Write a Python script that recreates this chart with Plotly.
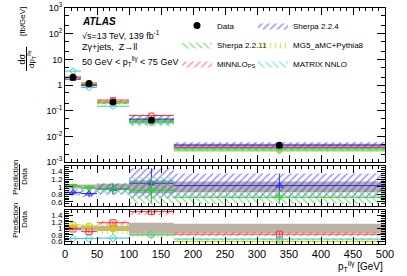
import plotly.graph_objects as go

# ---------------- data ----------------
bin_edges = [0, 25, 50, 100, 170, 500]
bin_centers = [12.5, 37.5, 75, 135, 335]

data_xsec = [2.0, 1.16, 0.22, 0.043, 0.0045]
data_rel_unc = [0.05, 0.06, 0.08, 0.17, 0.14]

series_names = ["Sherpa 2.2.4", "Sherpa 2.2.11", "MiNNLO<sub>PS</sub>", "MG5_aMC+Pythia8", "MATRIX NNLO"]

sherpa224_xsec = [1.7, 0.95, 0.21, 0.047, 0.0046]
sherpa2211_xsec = [2.0, 1.1, 0.20, 0.039, 0.0033]
minnlo_xsec = [1.95, 1.05, 0.26, 0.065, 0.0037]
mg5_xsec = [2.2, 1.24, 0.215, 0.034, 0.0027]
matrix_xsec = [3.5, 0.8, 0.15, 0.034, 0.0030]

sherpa224_ratio = [0.85, 0.82, 0.94, 1.09, 1.03]
sherpa2211_ratio = [1.02, 0.96, 0.94, 0.90, 0.72]
minnlo_ratio = [0.98, 0.90, 1.17, 1.51, 0.82]
mg5_ratio = [1.10, 1.07, 0.98, 0.80, 0.60]
matrix_ratio = [0.69, 0.69, 0.70, 0.80, 0.67]

sherpa224_unc = [0.08, 0.10, 0.15, 0.40, 0.32]
sherpa2211_unc = [0.06, 0.08, 0.12, 0.35, 0.18]
minnlo_unc = [0.05, 0.05, 0.06, 0.10, 0.06]
mg5_unc = [0.05, 0.06, 0.15, 0.08, 0.04]
matrix_unc = [0.02, 0.02, 0.02, 0.03, 0.03]

main_ticks = [1e-3, 1e-2, 1e-1, 1, 10, 100, 1000]
main_ticktext = ["10<sup>-3</sup>", "10<sup>-2</sup>", "10<sup>-1</sup>", "1", "10", "10<sup>2</sup>", "10<sup>3</sup>"]
ratio_ticks = [0.6, 0.8, 1.0, 1.2, 1.4]
ratio_ticktext = ["0.6", "0.8", "1", "1.2", "1.4"]
x_ticks = [0, 50, 100, 150, 200, 250, 300, 350, 400, 450, 500]

# styles
colors = ["#2b2bff", "#33cc33", "#ff3333", "#cccc00", "#33cccc"]
patterns = ["/", "\\", "/", "|", "\\"]
symbols = ["triangle-up-open", "triangle-down-open", "square-open", "circle-open", "diamond-open"]
legend_of = ["legend2", "legend", "legend", "legend2", "legend2"]
band_gray = "#bcb2a6"
FONT = "Liberation Sans, Arial, sans-serif"

preds_main = [sherpa224_xsec, sherpa2211_xsec, minnlo_xsec, mg5_xsec, matrix_xsec]
preds_ratio = [sherpa224_ratio, sherpa2211_ratio, minnlo_ratio, mg5_ratio, matrix_ratio]
preds_unc = [sherpa224_unc, sherpa2211_unc, minnlo_unc, mg5_unc, matrix_unc]
ratio_panel = [2, 2, 3, 3, 3]


def boxes(lo, hi):
    xs, ys = [], []
    for i in range(len(lo)):
        x0, x1 = bin_edges[i], bin_edges[i + 1]
        xs += [x0, x1, x1, x0, x0, None]
        ys += [lo[i], lo[i], hi[i], hi[i], lo[i], None]
    return xs, ys


def hlines(vals):
    xs, ys = [], []
    for i, v in enumerate(vals):
        xs += [bin_edges[i], bin_edges[i + 1], None]
        ys += [v, v, None]
    return xs, ys


def pattern(shape, c):
    return dict(shape=shape, fgcolor=c, bgcolor="rgba(0,0,0,0)", size=5, solidity=0.3)


fig = go.Figure()
axmap = {1: ("x", "y"), 2: ("x2", "y2"), 3: ("x3", "y3")}

# ---- data uncertainty bands ----
lo = [d * (1 - u) for d, u in zip(data_xsec, data_rel_unc)]
hi = [d * (1 + u) for d, u in zip(data_xsec, data_rel_unc)]
bx, by = boxes(lo, hi)
fig.add_trace(go.Scatter(x=bx, y=by, fill="toself", fillcolor=band_gray, mode="none",
                         showlegend=False, xaxis="x", yaxis="y", hoverinfo="skip"))
for p in (2, 3):
    bx, by = boxes([1 - u for u in data_rel_unc], [1 + u for u in data_rel_unc])
    fig.add_trace(go.Scatter(x=bx, y=by, fill="toself", fillcolor=band_gray, mode="none",
                             showlegend=False, xaxis=axmap[p][0], yaxis=axmap[p][1], hoverinfo="skip"))

# ---- predictions ----
order_rank = [1, 2, 3, 2, 3]
for k in range(5):
    c, pat, sym = colors[k], patterns[k], symbols[k]
    # main panel
    lo = [v * (1 - u) for v, u in zip(preds_main[k], preds_unc[k])]
    hi = [v * (1 + u) for v, u in zip(preds_main[k], preds_unc[k])]
    bx, by = boxes(lo, hi)
    fig.add_trace(go.Scatter(x=bx, y=by, fill="toself", fillcolor="rgba(0,0,0,0)",
                             fillpattern=pattern(pat, c),
                             mode="lines", line=dict(width=0, color=c),
                             name=series_names[k], showlegend=True, legendrank=order_rank[k],
                             legend=legend_of[k],
                             xaxis="x", yaxis="y", hoverinfo="skip"))
    hx, hy = hlines(preds_main[k])
    fig.add_trace(go.Scatter(x=hx, y=hy, mode="lines", line=dict(color=c, width=1),
                             showlegend=False, xaxis="x", yaxis="y", hoverinfo="skip"))
    fig.add_trace(go.Scatter(x=bin_centers, y=preds_main[k], mode="markers",
                             marker=dict(symbol=sym, size=5, color=c, line=dict(width=1, color=c)),
                             showlegend=False, xaxis="x", yaxis="y", hoverinfo="skip"))
    # ratio panel
    xa, ya = axmap[ratio_panel[k]]
    r, u = preds_ratio[k], preds_unc[k]
    bx, by = boxes([a - b for a, b in zip(r, u)], [a + b for a, b in zip(r, u)])
    fig.add_trace(go.Scatter(x=bx, y=by, fill="toself", fillcolor="rgba(0,0,0,0)",
                             fillpattern=pattern(pat, c),
                             mode="lines", line=dict(width=0, color=c),
                             showlegend=False, xaxis=xa, yaxis=ya, hoverinfo="skip"))
    hx, hy = hlines(r)
    fig.add_trace(go.Scatter(x=hx, y=hy, mode="lines", line=dict(color=c, width=1),
                             showlegend=False, xaxis=xa, yaxis=ya, hoverinfo="skip"))
    fig.add_trace(go.Scatter(x=bin_centers, y=r, mode="markers",
                             marker=dict(symbol=sym, size=6, color=c, line=dict(width=1, color=c)),
                             error_y=dict(type="data", array=u, color=c, thickness=1, width=0),
                             showlegend=False, xaxis=xa, yaxis=ya, hoverinfo="skip"))

# data points on top
fig.add_trace(go.Scatter(x=bin_centers, y=data_xsec, mode="markers",
                         marker=dict(color="black", size=7, symbol="circle"),
                         name="Data", showlegend=True, legendrank=0, legend="legend",
                         xaxis="x", yaxis="y", hoverinfo="skip"))

axis_common = dict(showline=True, linecolor="black", linewidth=1, mirror="allticks",
                   ticks="inside", tickcolor="black", showgrid=False, zeroline=False,
                   tickfont=dict(family=FONT, size=9, color="black"))
xcommon = dict(axis_common, range=[0, 500], tickvals=x_ticks, ticklen=7,
               minor=dict(ticks="inside", ticklen=3, dtick=10, tickcolor="black"))
ratio_font = dict(family=FONT, size=8, color="black")

W, H = 320.0, 236.0
def px(xp):  # pixel -> paper x
    return (xp - 65) / W
def py(yp):  # pixel -> paper y
    return (244 - yp) / H

legend_common = dict(orientation="v", yanchor="top", xanchor="left", itemwidth=30,
                     bgcolor="rgba(0,0,0,0)", tracegroupgap=0,
                     font=dict(family=FONT, size=8, color="black"))

fig.update_layout(
    width=407, height=276, autosize=False,
    margin=dict(l=65, r=22, t=8, b=32, pad=0, autoexpand=False),
    paper_bgcolor="white", plot_bgcolor="white",
    font=dict(family=FONT, color="black"),
    xaxis=dict(xcommon, domain=[0, 1], anchor="y", showticklabels=False),
    yaxis=dict(axis_common, domain=[0.347, 1], anchor="x", type="log", range=[-3, 3],
               tickvals=main_ticks, ticktext=main_ticktext, ticklen=8,
               minor=dict(ticks="inside", ticklen=4, tickcolor="black")),
    xaxis2=dict(xcommon, domain=[0, 1], anchor="y2", showticklabels=False, matches="x"),
    yaxis2=dict(axis_common, domain=[0.161, 0.331], anchor="x2", range=[0.49, 1.55],
                tickvals=ratio_ticks, ticktext=ratio_ticktext, ticklen=8, tickfont=ratio_font,
                minor=dict(ticks="inside", ticklen=4, dtick=0.05, tickcolor="black")),
    xaxis3=dict(xcommon, domain=[0, 1], anchor="y3", showticklabels=True, matches="x",
                tickfont=dict(family=FONT, size=11, color="black")),
    yaxis3=dict(axis_common, domain=[0, 0.144], anchor="x3", range=[0.52, 1.56],
                tickvals=ratio_ticks, ticktext=ratio_ticktext, ticklen=8, tickfont=ratio_font,
                minor=dict(ticks="inside", ticklen=4, dtick=0.05, tickcolor="black")),
    legend=dict(legend_common, x=px(177), y=py(11)),
    legend2=dict(legend_common, x=px(253), y=py(11)),
)

ann = []
def A(text, x, y, size=9, angle=0, xanchor="center", yanchor="middle", xref="paper", yref="paper"):
    ann.append(dict(text=text, x=x, y=y, xref=xref, yref=yref, showarrow=False, textangle=angle,
                    xanchor=xanchor, yanchor=yanchor, font=dict(family=FONT, size=size, color="black")))

A("<b><i>ATLAS</i></b>", px(80), py(22), size=10, xanchor="left")
A("√s=13 TeV, 139 fb<sup>-1</sup>", px(80), py(35), size=9, xanchor="left")
A("Zγ+jets,  Z→ll", px(80), py(47), size=9, xanchor="left")
A("50 GeV < p<sub>T</sub><sup>llγ</sup> < 75 GeV", px(80), py(62), size=9, xanchor="left")

# y title main
A("dσ", px(21.5), py(59), size=9, angle=-90)
A("dp<sub>T</sub><sup>llγ</sup>", px(32), py(59), size=8, angle=-90)
A("[fb/GeV]", px(23), py(22), size=8, angle=-90)
# ratio titles
A("Prediction", px(15), py(177), size=8, angle=-90)
A("Data", px(24), py(177), size=8, angle=-90)
A("Prediction", px(15), py(220), size=8, angle=-90)
A("Data", px(24), py(220), size=8, angle=-90)
# x title
A("p<sub>T</sub><sup>llγ</sup> [GeV]", 1.0, py(266), size=10, xanchor="right")

fig.update_layout(annotations=ann)

shapes = [
    dict(type="line", xref="paper", yref="paper", x0=px(26.5), x1=px(26.5), y0=py(47), y1=py(71),
         line=dict(color="black", width=1)),
    dict(type="line", xref="paper", yref="paper", x0=px(19.5), x1=px(19.5), y0=py(164), y1=py(190),
         line=dict(color="black", width=1)),
    dict(type="line", xref="paper", yref="paper", x0=px(19.5), x1=px(19.5), y0=py(207), y1=py(233),
         line=dict(color="black", width=1)),
]
fig.update_layout(shapes=shapes)

fig.write_html("out.html", config={"displayModeBar": False, "responsive": False},
               post_script="document.body.style.margin='0px';document.body.style.overflow='hidden';")
